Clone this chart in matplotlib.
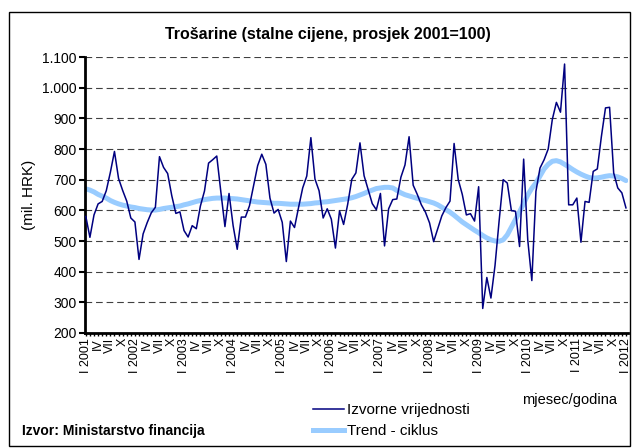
import matplotlib.pyplot as plt
from matplotlib.patches import Rectangle

plt.rcParams['font.family'] = ['Liberation Sans', 'DejaVu Sans']

# monthly data, I 2001 .. I 2012 (mil. HRK)
izvorne = [
    580, 512, 585, 621, 629, 664, 724, 792, 704, 665, 630, 575,
    562, 440, 523, 560, 592, 610, 775, 740, 720, 648, 590, 595,
    534, 513, 550, 540, 614, 663, 754, 765, 777, 660, 547, 655,
    550, 473, 578, 578, 615, 680, 746, 783, 750, 640, 591, 603,
    561, 433, 565, 544, 610, 673, 712, 837, 702, 664, 575, 605,
    571, 477, 598, 554, 620, 701, 722, 820, 713, 667, 622, 602,
    655, 484, 605, 635, 637, 708, 748, 840, 682, 652, 618, 594,
    559, 498, 540, 582, 609, 630, 818, 701, 652, 585, 589, 565,
    677, 280, 381, 314, 420, 565, 700, 689, 599, 597, 482, 767,
    504, 371, 662, 738, 765, 800, 896, 952, 920, 1077, 618, 618,
    640, 496, 629, 626, 727, 735, 841, 934, 936, 722, 673, 657, 608,
]
trend = [
    670, 666, 660, 652, 646, 640, 632, 626, 621, 617, 614, 611,
    609, 606, 604, 602, 601, 601, 603, 606, 608, 610, 612, 614,
    618, 621, 625, 629, 632, 635, 637, 639, 640, 640, 640, 639,
    638, 637, 635, 633, 631, 629, 627, 626, 625, 624, 623, 623,
    622, 621, 620, 620, 620, 620, 621, 622, 624, 625, 627, 628,
    630, 632, 634, 636, 638, 641, 645, 650, 655, 661, 666, 671,
    673, 675, 675, 673, 665, 657, 651, 647, 643, 639, 635, 632,
    628, 624, 618, 610, 602, 594, 584, 573, 562, 553, 544, 535,
    527, 518, 510, 504, 500, 499, 504, 520, 545, 570, 595, 622,
    650, 672, 689, 712, 735, 750, 760, 762, 758, 750, 742, 733,
    725, 718, 712, 707, 705, 706, 708, 711, 713, 712, 709, 704, 697,
]
godine = list(range(2001, 2013))
mjeseci = ['I', 'IV', 'VII', 'X']

n = len(izvorne)
x = list(range(n))

fig = plt.figure(figsize=(6.32, 4.48), dpi=100)
ax = fig.add_axes([85 / 632, 1 - 333 / 448, 543 / 632, 276 / 448])

ax.plot(x, trend, color='#99CCFF', linewidth=3.6, solid_capstyle='round', zorder=2)
ax.plot(x, izvorne, color='#000080', linewidth=1.1, zorder=3)

ax.set_ylim(200, 1100)
ax.set_xlim(-0.2, n - 0.5)
yt = list(range(200, 1101, 100))
ax.set_yticks(yt)
ax.set_yticklabels([f'{v:,}'.replace(',', '.') for v in yt], fontsize=10)
for v in yt[1:]:
    ax.axhline(v, color='#404040', linewidth=0.8, dashes=(6, 3.5), zorder=1)

labels = []
for i in x:
    if i % 3 == 0:
        m = mjeseci[(i % 12) // 3]
        labels.append(f'{m} {godine[i // 12]}' if m == 'I' else m)
    else:
        labels.append('')
ax.set_xticks(x)
ax.set_xticklabels(labels, rotation=90, fontsize=9)
ax.tick_params(axis='x', direction='out', length=2.5, width=1, pad=1)
ax.tick_params(axis='y', direction='out', length=4, width=1.5, pad=2)

for s in ['top', 'right']:
    ax.spines[s].set_visible(False)
ax.spines['left'].set_linewidth(2)
ax.spines['bottom'].set_linewidth(2)

ax.set_ylabel('(mil. HRK)', fontsize=11, labelpad=4)
fig.text(328 / 632, 1 - 35 / 448, 'Trošarine (stalne cijene, prosjek 2001=100)',
         fontsize=11.5, fontweight='bold', ha='center', va='center')
fig.text(522 / 632, 1 - 400 / 448, 'mjesec/godina', fontsize=10.5, va='center')
fig.text(22 / 632, 1 - 431 / 448, 'Izvor: Ministarstvo financija',
         fontsize=10, fontweight='bold', va='center')

h1, = ax.plot([], [], color='#000080', linewidth=1.1)
h2, = ax.plot([], [], color='#99CCFF', linewidth=3.6)
fig.legend([h1, h2], ['Izvorne vrijednosti', 'Trend - ciklus'],
           loc='upper left', bbox_to_anchor=(313 / 632, 1 - 403 / 448),
           frameon=False, fontsize=11, handlelength=2.0, handletextpad=0.25,
           labelspacing=0.45, borderaxespad=0, borderpad=0)

fig.patches.append(Rectangle((9 / 632, 2 / 448), 621 / 632, 434 / 448,
                             transform=fig.transFigure, fill=False,
                             edgecolor='black', linewidth=1))

fig.savefig('out.png', dpi=100)
